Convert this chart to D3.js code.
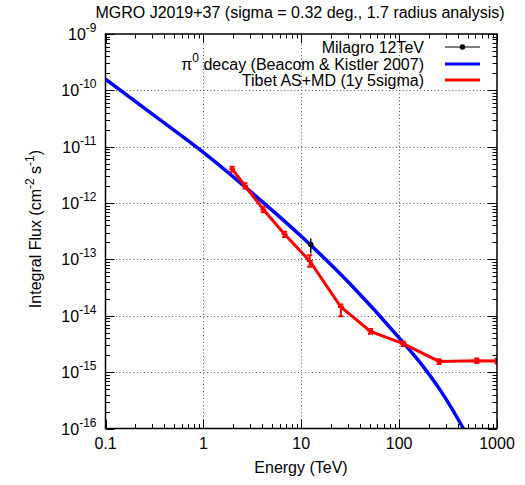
<!DOCTYPE html>
<html>
<head>
<meta charset="utf-8">
<script src="https://cdn.jsdelivr.net/npm/d3@7"></script>
<style>
  body { margin: 0; background: #fff; }
  text { font-family: "Liberation Sans", Arial, sans-serif; fill: #000; }
</style>
</head>
<body>
<div id="mainDiv"></div>
<script>
'use strict';

// pi0 decay model (Beacom & Kistler 2007)
var piEnergy = [0.1, 0.316, 1, 3.16, 10, 31.6, 100, 178, 263, 453, 562];
var piFlux = [1.58e-10, 3.55e-11, 7.9e-12, 1.5e-12, 2.57e-13, 3.67e-14, 4.07e-15, 1.23e-15, 4.8e-16, 1.0e-16, 5.0e-17];

// Tibet AS+MD (1y 5sigma)
var tibetEnergy = [1.97, 2.66, 4.1, 6.76, 12.2, 25.4, 51, 110, 256, 620, 1000];
var tibetFlux = [4.0e-12, 2.03e-12, 7.7e-13, 2.8e-13, 9.4e-14, 1.43e-14, 5.3e-15, 3.2e-15, 1.55e-15, 1.6e-15, 1.58e-15];
var tibetLow = [3.6e-12, 1.82e-12, 6.9e-13, 2.5e-13, 7.4e-14, 9.8e-15, 4.8e-15, 2.9e-15, 1.4e-15, 1.45e-15, 1.43e-15];
var tibetHigh = [4.4e-12, 2.25e-12, 8.6e-13, 3.1e-13, 1.19e-13, 1.58e-14, 5.8e-15, 3.5e-15, 1.7e-15, 1.75e-15, 1.73e-15];

// Milagro 12TeV
var milagroEnergy = [12.5];
var milagroFlux = [1.84e-13];
var milagroLow = [1.27e-13];
var milagroHigh = [2.34e-13];

var xTickValues = [0.1, 1, 10, 100, 1000];
var xTickLabels = ['0.1', '1', '10', '100', '1000'];
var yExponents = [-9, -10, -11, -12, -13, -14, -15, -16];

var legendLabels = ['Milagro 12TeV', 'decay (Beacom & Kistler 2007)', 'Tibet AS+MD (1y 5sigma)'];

var W = 525, H = 485;
var m = { left: 105.5, right: 28, top: 34, bottom: 56.5 };
var fs = 16, fsSup = 12;

var svg = d3.select('#mainDiv').append('svg').attr('width', W).attr('height', H);

var x = d3.scaleLog().domain([0.1, 1000]).range([m.left, W - m.right]);
var y = d3.scaleLog().domain([1e-16, 1e-9]).range([H - m.bottom, m.top]);

svg.append('clipPath').attr('id', 'clip').append('rect')
    .attr('x', m.left).attr('y', m.top)
    .attr('width', W - m.right - m.left).attr('height', H - m.bottom - m.top);

// grid
var grid = svg.append('g').attr('stroke', '#555').attr('stroke-width', 1).attr('stroke-dasharray', '1,2.5');
[1, 10, 100].forEach(function (v) {
    grid.append('line').attr('x1', Math.round(x(v)) + 0.5).attr('x2', Math.round(x(v)) + 0.5)
        .attr('y1', m.top).attr('y2', H - m.bottom);
});
yExponents.slice(1, -1).forEach(function (e) {
    var yy = Math.round(y(Math.pow(10, e))) + 0.5;
    grid.append('line').attr('x1', m.left).attr('x2', W - m.right).attr('y1', yy).attr('y2', yy);
});

// ticks (inward, mirrored)
var ticks = svg.append('g').attr('stroke', '#000').attr('stroke-width', 1);
var xMinor = [], yMinor = [];
for (var d = -1; d < 3; d++) {
    for (var k = 2; k < 10; k++) xMinor.push(k * Math.pow(10, d));
}
for (var e = -16; e < -9; e++) {
    for (var k2 = 2; k2 < 10; k2++) yMinor.push(k2 * Math.pow(10, e));
}
function xTick(v, len) {
    var xx = Math.round(x(v)) + 0.5;
    ticks.append('line').attr('x1', xx).attr('x2', xx).attr('y1', H - m.bottom).attr('y2', H - m.bottom - len);
    ticks.append('line').attr('x1', xx).attr('x2', xx).attr('y1', m.top).attr('y2', m.top + len);
}
function yTick(v, len) {
    var yy = Math.round(y(v)) + 0.5;
    ticks.append('line').attr('x1', m.left).attr('x2', m.left + len).attr('y1', yy).attr('y2', yy);
    ticks.append('line').attr('x1', W - m.right).attr('x2', W - m.right - len).attr('y1', yy).attr('y2', yy);
}
xTickValues.forEach(function (v) { xTick(v, 9); });
xMinor.forEach(function (v) { xTick(v, 4.5); });
yExponents.forEach(function (e) { yTick(Math.pow(10, e), 9); });
yMinor.forEach(function (v) { yTick(v, 4.5); });

// tick labels
xTickValues.forEach(function (v, i) {
    svg.append('text').attr('x', x(v)).attr('y', H - m.bottom + 20)
        .attr('text-anchor', 'middle').attr('font-size', fs).text(xTickLabels[i]);
});
yExponents.forEach(function (e) {
    var t = svg.append('text').attr('x', m.left - 9).attr('y', y(Math.pow(10, e)) + 6)
        .attr('text-anchor', 'end').attr('font-size', fs);
    t.append('tspan').text('10');
    t.append('tspan').attr('dy', -8).attr('font-size', fsSup).text(String(e));
});

// curves
var plot = svg.append('g').attr('clip-path', 'url(#clip)');
var line = d3.line().x(function (d) { return x(d[0]); }).y(function (d) { return y(d[1]); });

plot.append('path')
    .datum(d3.zip(piEnergy, piFlux))
    .attr('d', line.curve(d3.curveMonotoneX))
    .attr('fill', 'none').attr('stroke', '#0000ff').attr('stroke-width', 3.5);

var tibet = d3.zip(tibetEnergy, tibetFlux, tibetLow, tibetHigh);
plot.append('path')
    .datum(tibet)
    .attr('d', line.curve(d3.curveLinear))
    .attr('fill', 'none').attr('stroke', '#ff0000').attr('stroke-width', 3);
var tb = plot.append('g').attr('stroke', '#ff0000').attr('stroke-width', 2);
tibet.forEach(function (d) {
    var xx = x(d[0]);
    tb.append('line').attr('x1', xx).attr('x2', xx).attr('y1', y(d[2])).attr('y2', y(d[3]));
    tb.append('line').attr('x1', xx - 2.5).attr('x2', xx + 2.5).attr('y1', y(d[2])).attr('y2', y(d[2]));
    tb.append('line').attr('x1', xx - 2.5).attr('x2', xx + 2.5).attr('y1', y(d[3])).attr('y2', y(d[3]));
    tb.append('line').attr('x1', xx - 3).attr('x2', xx + 3).attr('y1', y(d[1])).attr('y2', y(d[1]));
});

var milagro = d3.zip(milagroEnergy, milagroFlux, milagroLow, milagroHigh);
var mg = plot.append('g');
milagro.forEach(function (d) {
    var xx = x(d[0]);
    mg.append('line').attr('x1', xx).attr('x2', xx).attr('y1', y(d[2])).attr('y2', y(d[3]))
        .attr('stroke', '#000').attr('stroke-width', 1.5);
    mg.append('circle').attr('cx', xx).attr('cy', y(d[1])).attr('r', 2.8).attr('fill', '#000');
});

// frame
svg.append('rect').attr('x', m.left).attr('y', m.top)
    .attr('width', W - m.right - m.left).attr('height', H - m.bottom - m.top)
    .attr('fill', 'none').attr('stroke', '#000').attr('stroke-width', 1.5);

// legend
var lx = 424, sx1 = 445, sx2 = 480;
var rows = [47, 64, 80];
svg.append('text').attr('x', lx).attr('y', rows[0] + 6).attr('text-anchor', 'end').attr('font-size', fs).text(legendLabels[0]);
var t2 = svg.append('text').attr('x', lx).attr('y', rows[1] + 6).attr('text-anchor', 'end').attr('font-size', fs);
t2.append('tspan').text('\u03c0');
t2.append('tspan').attr('dy', -8).attr('font-size', fsSup).text('0');
t2.append('tspan').attr('dy', 8).text(' ' + legendLabels[1]);
svg.append('text').attr('x', lx).attr('y', rows[2] + 6).attr('text-anchor', 'end').attr('font-size', fs).text(legendLabels[2]);

svg.append('line').attr('x1', sx1).attr('x2', sx2).attr('y1', rows[0]).attr('y2', rows[0]).attr('stroke', '#000').attr('stroke-width', 1);
svg.append('circle').attr('cx', (sx1 + sx2) / 2).attr('cy', rows[0]).attr('r', 2.8).attr('fill', '#000');
svg.append('line').attr('x1', sx1).attr('x2', sx2).attr('y1', rows[1]).attr('y2', rows[1]).attr('stroke', '#0000ff').attr('stroke-width', 3);
svg.append('line').attr('x1', sx1).attr('x2', sx2).attr('y1', rows[2]).attr('y2', rows[2]).attr('stroke', '#ff0000').attr('stroke-width', 3);

// titles
svg.append('text').attr('x', 300).attr('y', 18).attr('text-anchor', 'middle').attr('font-size', fs)
    .text('MGRO J2019+37 (sigma = 0.32 deg., 1.7 radius analysis)');
svg.append('text').attr('x', 301).attr('y', 473).attr('text-anchor', 'middle').attr('font-size', fs)
    .text('Energy (TeV)');
var yl = svg.append('text').attr('transform', 'translate(41,229) rotate(-90)')
    .attr('text-anchor', 'middle').attr('font-size', fs);
yl.append('tspan').text('Integral Flux (cm');
yl.append('tspan').attr('dy', -7).attr('font-size', fsSup).text('-2');
yl.append('tspan').attr('dy', 7).text(' s');
yl.append('tspan').attr('dy', -7).attr('font-size', fsSup).text('-1');
yl.append('tspan').attr('dy', 7).text(')');
</script>
</body>
</html>
